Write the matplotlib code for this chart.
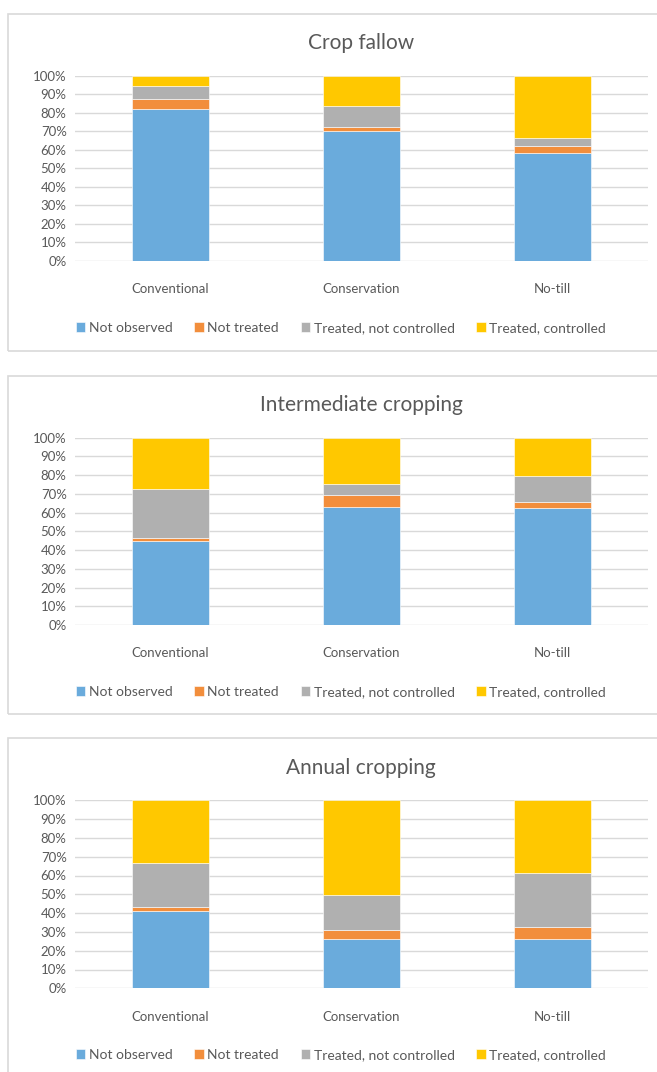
import matplotlib.pyplot as plt
import numpy as np
from matplotlib.patches import Rectangle
from matplotlib.ticker import PercentFormatter

plt.rcParams['font.family'] = ['Lato', 'DejaVu Sans']

categories = ["Conventional", "Conservation", "No-till"]
series = ["Not observed", "Not treated", "Treated, not controlled", "Treated, controlled"]
colors = ["#6AABDC", "#F28E3C", "#B0B0B0", "#FFC800"]

titles = ["Crop fallow", "Intermediate cropping", "Annual cropping"]

# percentages per panel: rows = series, cols = categories
crop_fallow = [
    [81.8, 70.3, 58.5],
    [5.4, 1.8, 3.7],
    [7.4, 11.7, 4.2],
    [5.4, 16.2, 33.6],
]
intermediate = [
    [45.0, 62.8, 62.3],
    [1.3, 6.8, 3.5],
    [26.1, 5.8, 13.9],
    [27.6, 24.6, 20.3],
]
annual = [
    [41.0, 26.1, 26.4],
    [2.1, 4.8, 6.4],
    [23.4, 18.7, 28.7],
    [33.5, 50.4, 38.5],
]
panels = [crop_fallow, intermediate, annual]

W, H = 657, 1072
fig = plt.figure(figsize=(W / 100, H / 100), dpi=100)

# pixel layout (top y) for each panel
boxes = [(14, 351), (376, 714), (738, 1080)]
axes_y = [(75.7, 261), (437.7, 625), (800.3, 988.3)]
title_y = [43, 405, 768]
legend_y = [328, 692, 1055]

text_col = "#595959"
x = np.arange(len(categories))

for i, data in enumerate(panels):
    b0, b1 = boxes[i]
    fig.patches.append(Rectangle((8 / W, 1 - b1 / H), (W + 10 - 8) / W, (b1 - b0) / H,
                                 transform=fig.transFigure, fill=False,
                                 edgecolor="#D9D9D9", lw=1.2))
    top, bot = axes_y[i]
    ax = fig.add_axes([75 / W, 1 - bot / H, (648 - 75) / W, (bot - top) / H])
    bottom = np.zeros(len(categories))
    handles = []
    for vals, col, name in zip(data, colors, series):
        h = ax.bar(x, vals, 0.4, bottom=bottom, color=col, label=name,
                   edgecolor="white", linewidth=0.4, zorder=3)
        handles.append(h)
        bottom += np.array(vals)
    ax.set_xlim(-0.5, 2.5)
    ax.set_ylim(0, 100)
    ax.set_yticks(np.arange(0, 101, 10))
    ax.yaxis.set_major_formatter(PercentFormatter(decimals=0))
    ax.grid(axis="y", color="#D9D9D9", lw=1, zorder=0)
    for s in ax.spines.values():
        s.set_visible(False)
    ax.tick_params(length=0, labelsize=9.5, colors=text_col, pad=6)
    ax.tick_params(axis="x", pad=16)
    ax.set_xticks(x)
    ax.set_xticklabels(categories)
    fig.text(361 / W, 1 - title_y[i] / H, titles[i], ha="center", va="center",
             fontsize=15, color=text_col)
    fig.legend(handles, series, loc="center", bbox_to_anchor=(341 / W, 1 - legend_y[i] / H),
               ncol=4, frameon=False, fontsize=10, handlelength=0.7, handleheight=0.7,
               handletextpad=0.25, columnspacing=1.55, labelcolor=text_col)

fig.savefig("out.png", dpi=100)
